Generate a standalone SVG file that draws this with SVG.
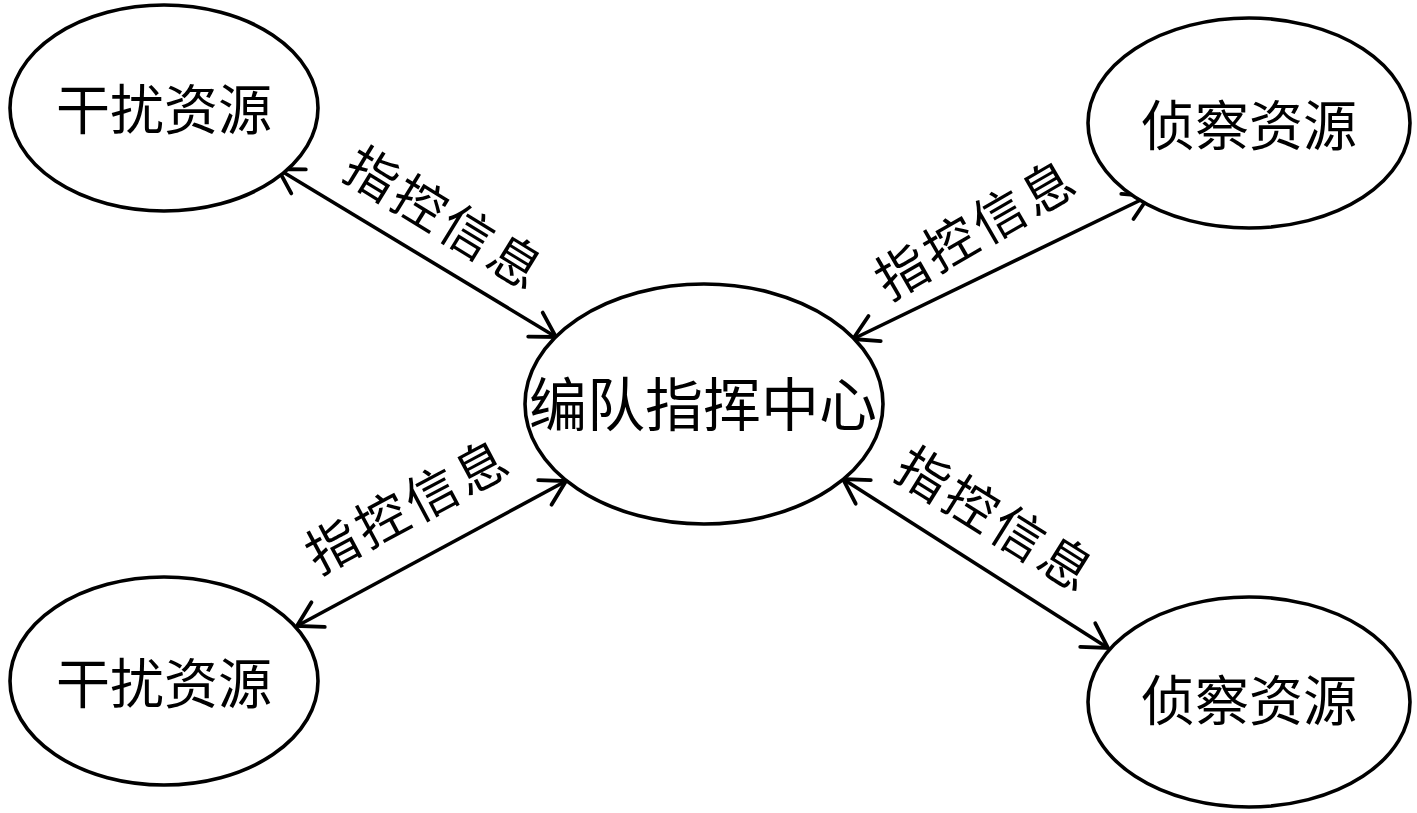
<svg xmlns="http://www.w3.org/2000/svg" width="1417" height="813" viewBox="0 0 1417 813">
<defs>
<style>
.node{fill:#fff;stroke:#000;stroke-width:3.6}
.nt{font-family:"Noto Sans CJK SC",sans-serif;font-size:54px;fill:#000;text-anchor:middle}
.ct{font-family:"Noto Sans CJK SC",sans-serif;font-size:58px;fill:#000;text-anchor:middle}
.lt{font-family:"Noto Sans CJK SC",sans-serif;font-size:52px;fill:#000;text-anchor:middle;letter-spacing:4px}
.edge{stroke:#000;stroke-width:3.6;fill:none;marker-start:url(#ah);marker-end:url(#ah)}
</style>
<marker id="ah" markerUnits="userSpaceOnUse" markerWidth="40" markerHeight="40" viewBox="-30 -20 40 40" refX="0" refY="0" orient="auto-start-reverse" overflow="visible">
<path d="M-24,-14 L0,0 L-24,14" fill="none" stroke="#000" stroke-width="3.8" stroke-linecap="round"/>
</marker>
</defs>
<rect width="1417" height="813" fill="#fff"/>
<g id="connectors">
<line class="edge" x1="278" y1="169" x2="556" y2="337"/>
<line class="edge" x1="853" y1="339" x2="1149" y2="196"/>
<line class="edge" x1="566" y1="481" x2="297" y2="626"/>
<line class="edge" x1="843" y1="479" x2="1108" y2="648"/>
<text class="lt" transform="translate(446,218) rotate(31.5)" x="0" y="20">指控信息</text>
<text class="lt" transform="translate(976,228) rotate(-30)" x="0" y="20">指控信息</text>
<text class="lt" transform="translate(408,505) rotate(-28)" x="0" y="20">指控信息</text>
<text class="lt" transform="translate(997,519) rotate(32)" x="0" y="20">指控信息</text>
</g>
<g id="n-jam-top">
<ellipse class="node" cx="164" cy="108" rx="154" ry="103"/>
<text class="nt" x="164" y="130">干扰资源</text>
</g>
<g id="n-recon-top">
<ellipse class="node" cx="1249" cy="123" rx="161" ry="105"/>
<text class="nt" x="1249" y="146">侦察资源</text>
</g>
<g id="n-center">
<ellipse class="node" cx="704" cy="404" rx="179" ry="120"/>
<text class="ct" x="703" y="426">编队指挥中心</text>
</g>
<g id="n-jam-bottom">
<ellipse class="node" cx="164" cy="681" rx="154" ry="104"/>
<text class="nt" x="164" y="704">干扰资源</text>
</g>
<g id="n-recon-bottom">
<ellipse class="node" cx="1249" cy="702" rx="161" ry="105"/>
<text class="nt" x="1249" y="721">侦察资源</text>
</g>
</svg>
